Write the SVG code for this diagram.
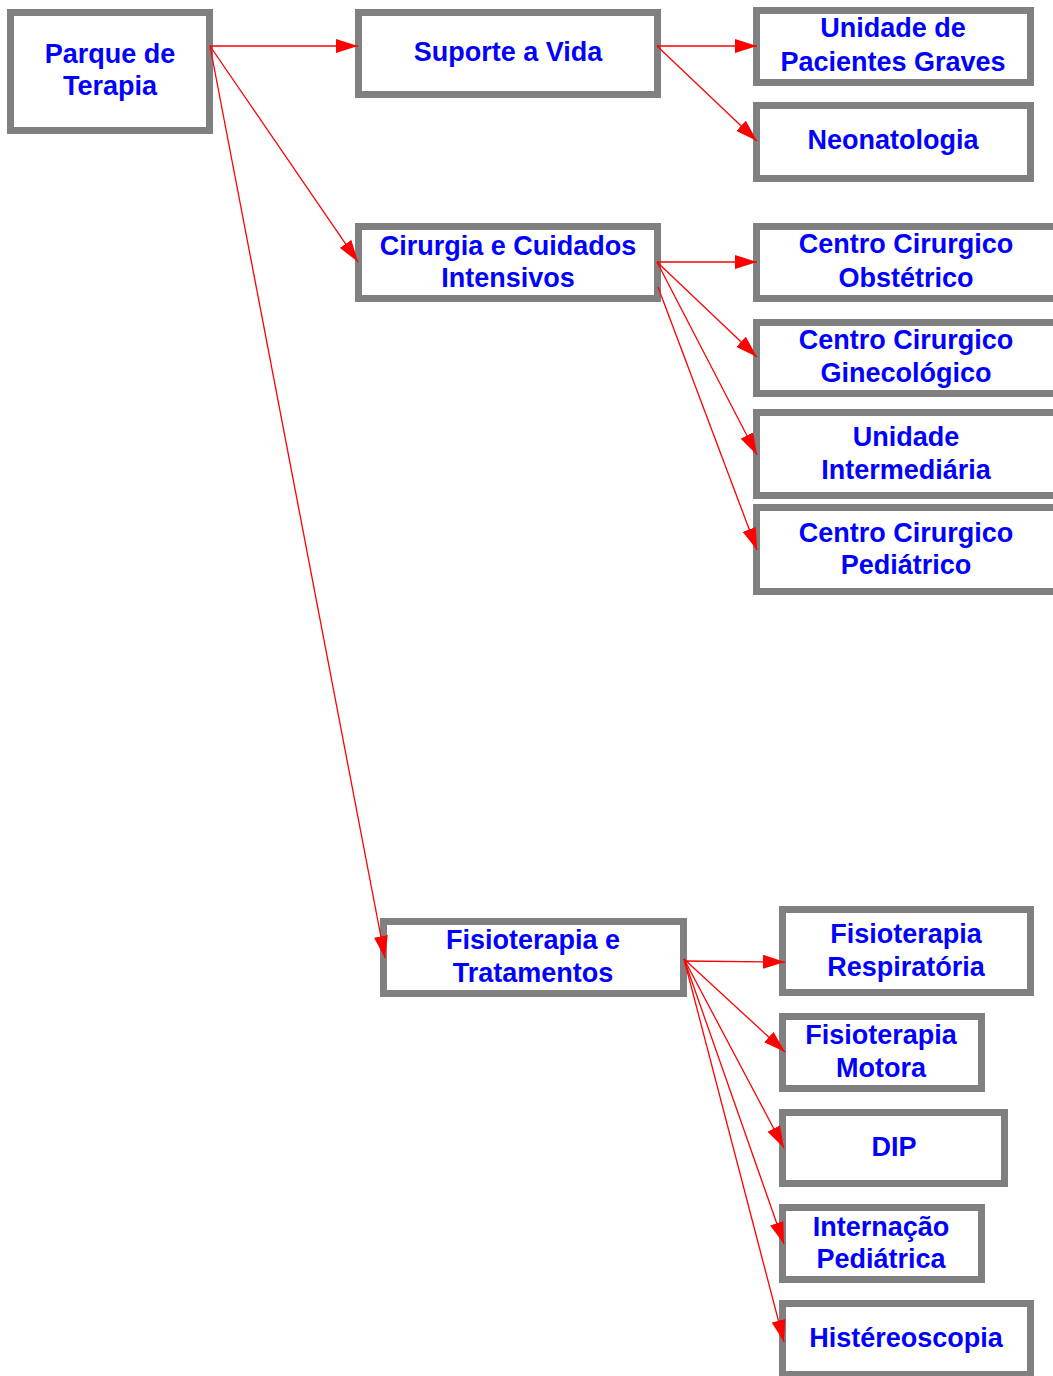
<svg xmlns="http://www.w3.org/2000/svg" width="1053" height="1376" viewBox="0 0 1053 1376">
<style>
.box{fill:#ffffff;stroke:#808080;stroke-width:7}
.t{font-family:"Liberation Sans",Arial,sans-serif;font-weight:bold;font-size:27px;fill:#0000ff;text-anchor:middle}
.c{stroke:#ff0000;stroke-width:1.3;fill:none;marker-end:url(#ah)}
</style>
<defs>
<marker id="ah" markerUnits="userSpaceOnUse" markerWidth="22" markerHeight="14" refX="22" refY="7" orient="auto">
<path d="M0,0 L22,7 L0,14 z" fill="#ff0000"/>
</marker>
</defs>
<rect width="1053" height="1376" fill="#ffffff"/>
<g id="parque"><rect class="box" x="10.5" y="12.5" width="199" height="118"/><text class="t" x="110" y="63">Parque de</text><text class="t" x="110" y="95">Terapia</text></g>
<g id="suporte"><rect class="box" x="358.5" y="12.5" width="299" height="82"/><text class="t" x="508" y="61">Suporte a Vida</text></g>
<g id="upg"><rect class="box" x="756.5" y="10.5" width="274" height="72"/><text class="t" x="893" y="37">Unidade de</text><text class="t" x="893" y="71">Pacientes Graves</text></g>
<g id="neo"><rect class="box" x="756.5" y="105.5" width="274" height="73"/><text class="t" x="893" y="149">Neonatologia</text></g>
<g id="cirurgia"><rect class="box" x="358.5" y="226.5" width="299" height="72"/><text class="t" x="508" y="255">Cirurgia e Cuidados</text><text class="t" x="508" y="287">Intensivos</text></g>
<g id="obst"><rect class="box" x="756.5" y="226.5" width="301" height="72"/><text class="t" x="906" y="253">Centro Cirurgico</text><text class="t" x="906" y="287">Obstétrico</text></g>
<g id="gine"><rect class="box" x="756.5" y="322.5" width="301" height="71"/><text class="t" x="906" y="349">Centro Cirurgico</text><text class="t" x="906" y="382">Ginecológico</text></g>
<g id="unidint"><rect class="box" x="756.5" y="412.5" width="301" height="83"/><text class="t" x="906" y="446">Unidade</text><text class="t" x="906" y="479">Intermediária</text></g>
<g id="ped"><rect class="box" x="756.5" y="507.5" width="301" height="84"/><text class="t" x="906" y="542">Centro Cirurgico</text><text class="t" x="906" y="574">Pediátrico</text></g>
<g id="fisio"><rect class="box" x="383.5" y="921.5" width="300" height="72"/><text class="t" x="533" y="949">Fisioterapia e</text><text class="t" x="533" y="982">Tratamentos</text></g>
<g id="resp"><rect class="box" x="782.5" y="909.5" width="248" height="83"/><text class="t" x="906" y="943">Fisioterapia</text><text class="t" x="906" y="976">Respiratória</text></g>
<g id="motora"><rect class="box" x="782.5" y="1016.5" width="199" height="72"/><text class="t" x="881" y="1044">Fisioterapia</text><text class="t" x="881" y="1077">Motora</text></g>
<g id="dip"><rect class="box" x="782.5" y="1112.5" width="222" height="71"/><text class="t" x="894" y="1156">DIP</text></g>
<g id="intern"><rect class="box" x="782.5" y="1207.5" width="199" height="72"/><text class="t" x="881" y="1236">Internação</text><text class="t" x="881" y="1268">Pediátrica</text></g>
<g id="hist"><rect class="box" x="782.5" y="1303.5" width="248" height="71"/><text class="t" x="906" y="1347">Histéreoscopia</text></g>
<g id="connectors">
<line class="c" x1="210" y1="46" x2="358" y2="46"/>
<line class="c" x1="210" y1="46" x2="358" y2="262"/>
<line class="c" x1="210" y1="46" x2="385" y2="958"/>
<line class="c" x1="657" y1="46" x2="757" y2="46"/>
<line class="c" x1="657" y1="46" x2="757" y2="141"/>
<line class="c" x1="657" y1="262" x2="757" y2="262"/>
<line class="c" x1="657" y1="262" x2="757" y2="357"/>
<line class="c" x1="657" y1="262" x2="757" y2="455"/>
<line class="c" x1="658" y1="287" x2="757" y2="550"/>
<line class="c" x1="684" y1="961" x2="785" y2="962"/>
<line class="c" x1="684" y1="959" x2="785" y2="1052"/>
<line class="c" x1="684" y1="959" x2="784" y2="1148"/>
<line class="c" x1="684" y1="959" x2="784" y2="1244"/>
<line class="c" x1="684" y1="959" x2="784" y2="1342"/>
</g>
</svg>
